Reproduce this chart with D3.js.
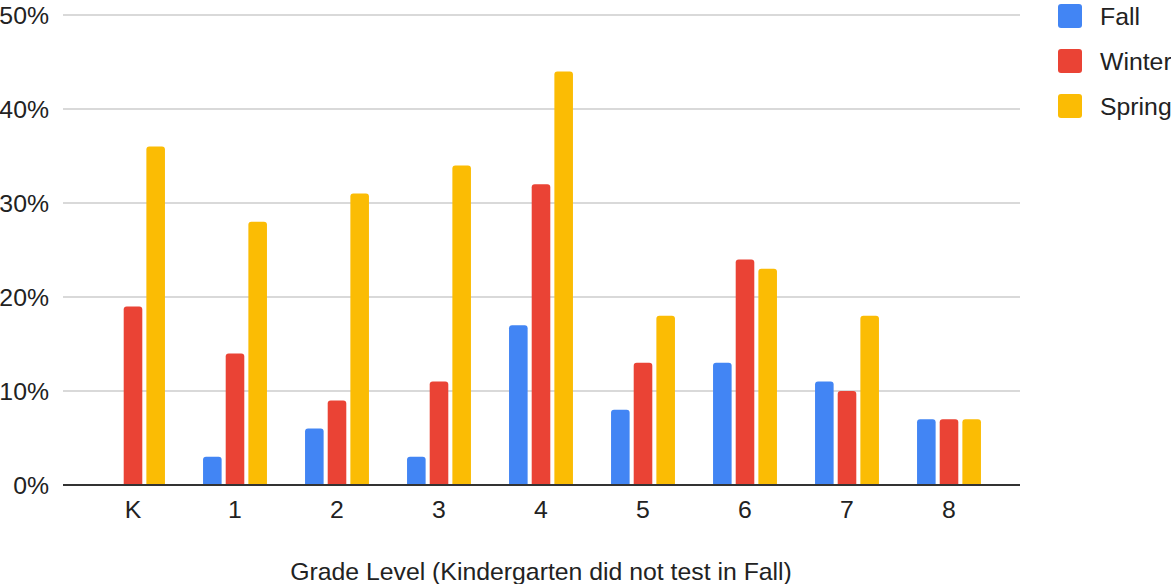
<!DOCTYPE html>
<html>
<head>
<meta charset="utf-8">
<script src="https://cdn.jsdelivr.net/npm/d3@7"></script>
<style>
  body { margin: 0; background: #fff; }
  svg { display: block; font-family: Arial, "Liberation Sans", sans-serif; }
</style>
</head>
<body>
<svg id="drawing_region"></svg>
<script>
const grades = ["K", "1", "2", "3", "4", "5", "6", "7", "8"];
const seriesNames = ["Fall", "Winter", "Spring"];
const seriesColors = ["#4285f4", "#ea4335", "#fbbc04"];
const fall   = [null, 3, 6, 3, 17, 8, 13, 11, 7];
const winter = [19, 14, 9, 11, 32, 13, 24, 10, 7];
const spring = [36, 28, 31, 34, 44, 18, 23, 18, 7];
const yTicks = [0, 10, 20, 30, 40, 50];
const xTitle = "Grade Level (Kindergarten did not test in Fall)";

const values = [fall, winter, spring];

const width = 1171, height = 584;
const fontSize = "24.8px";
const svg = d3.select("#drawing_region")
    .attr("width", width)
    .attr("height", height);

const gridLeft = 63, gridRight = 1020;

const xscale = d3.scaleBand()
    .domain(grades)
    .range([82, 1000]);

const inner = d3.scaleBand()
    .domain(seriesNames)
    .range([-34, 34])
    .paddingInner(0.18)
    .paddingOuter(0.09);

const yscale = d3.scaleLinear()
    .domain([0, 50])
    .range([485, 15]);

// gridlines
svg.append("g")
    .selectAll("line")
    .data(yTicks.filter(t => t > 0))
    .join("line")
    .attr("x1", gridLeft)
    .attr("x2", gridRight)
    .attr("y1", d => yscale(d))
    .attr("y2", d => yscale(d))
    .attr("stroke", "#cccccc")
    .attr("stroke-width", 1.5);

// y labels
svg.append("g")
    .selectAll("text")
    .data(yTicks)
    .join("text")
    .attr("x", 49)
    .attr("y", d => yscale(d))
    .attr("dy", "0.36em")
    .attr("text-anchor", "end")
    .attr("font-size", fontSize)
    .attr("fill", "#222")
    .text(d => d + "%");

// bars with rounded top corners
function barPath(x, y, w, h, r) {
    r = Math.min(r, h, w / 2);
    return `M${x},${y + h}V${y + r}Q${x},${y} ${x + r},${y}H${x + w - r}Q${x + w},${y} ${x + w},${y + r}V${y + h}Z`;
}

const bars = [];
grades.forEach((g, i) => {
    seriesNames.forEach((s, j) => {
        const v = values[j][i];
        if (v != null) bars.push({ grade: g, series: s, idx: j, value: v });
    });
});

svg.append("g")
    .selectAll("path")
    .data(bars)
    .join("path")
    .attr("d", d => {
        const cx = xscale(d.grade) + xscale.bandwidth() / 2;
        const x = cx + inner(d.series);
        const y = yscale(d.value);
        return barPath(x, y, inner.bandwidth(), yscale(0) - y, 3);
    })
    .attr("fill", d => seriesColors[d.idx]);

// baseline
svg.append("line")
    .attr("x1", gridLeft)
    .attr("x2", gridRight)
    .attr("y1", yscale(0))
    .attr("y2", yscale(0))
    .attr("stroke", "#333333")
    .attr("stroke-width", 2);

// x labels
svg.append("g")
    .selectAll("text")
    .data(grades)
    .join("text")
    .attr("x", d => xscale(d) + xscale.bandwidth() / 2)
    .attr("y", 518)
    .attr("text-anchor", "middle")
    .attr("font-size", fontSize)
    .attr("fill", "#222")
    .text(d => d);

// x title
svg.append("text")
    .attr("x", 541)
    .attr("y", 580)
    .attr("text-anchor", "middle")
    .attr("font-size", fontSize)
    .attr("fill", "#222")
    .text(xTitle);

// legend
const legend = svg.append("g")
    .selectAll("g")
    .data(seriesNames)
    .join("g")
    .attr("transform", (d, i) => `translate(1058, ${4 + i * 45})`);

legend.append("rect")
    .attr("width", 24)
    .attr("height", 24)
    .attr("rx", 3)
    .attr("fill", (d, i) => seriesColors[i]);

legend.append("text")
    .attr("x", 42)
    .attr("y", 12)
    .attr("dy", "0.36em")
    .attr("font-size", fontSize)
    .attr("fill", "#222")
    .text(d => d);
</script>
</body>
</html>
